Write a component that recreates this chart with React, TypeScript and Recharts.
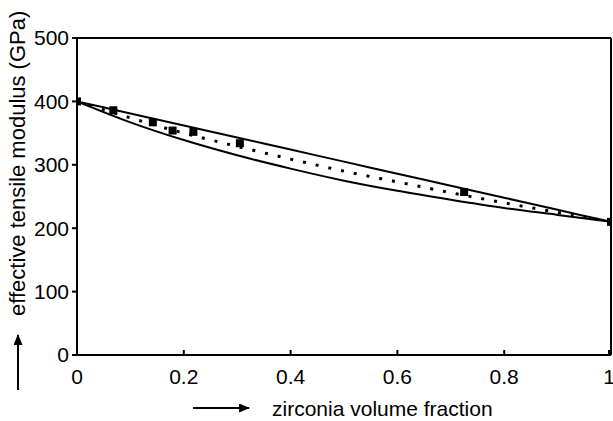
import React from "react";
import { ComposedChart, Line, Scatter, XAxis, YAxis, ReferenceLine } from "recharts";

const FONT = "'Liberation Sans', Arial, sans-serif";

// zirconia volume fraction sample points for the curves
const fractions = [0, 0.1, 0.2, 0.3, 0.4, 0.5, 0.6, 0.7, 0.8, 0.9, 1];
const upperBound = [400, 381, 362, 343, 324, 305, 286, 267, 248, 229, 210];
const lowerBound = [400, 367, 339, 315, 294, 275, 259, 245, 232, 221, 210];
const estimate = [400, 374, 350, 329, 309, 290, 273, 256, 240, 225, 210];

// measured moduli (squares)
const measuredX = [0, 0.068, 0.142, 0.179, 0.218, 0.305, 0.725, 1];
const measuredY = [400, 386, 367, 354, 352, 334, 257, 210];

const xTicks = [0, 0.2, 0.4, 0.6, 0.8, 1];
const yTicks = [0, 100, 200, 300, 400, 500];

const toPoints = (xs: number[], ys: number[]) => xs.map((x, i) => ({ x, y: ys[i] }));

const upperData = toPoints(fractions, upperBound);
const lowerData = toPoints(fractions, lowerBound);
const estimateData = toPoints(fractions, estimate);
const measuredData = toPoints(measuredX, measuredY);

const XTick = ({ x, y, payload }: any) => (
  <g>
    <line x1={x} x2={x} y1={y} y2={y - 5} stroke="#000" strokeWidth={2} />
    <text x={x} y={y + 29} textAnchor="middle" fill="#000" fontSize={21} fontFamily={FONT}>
      {payload.value}
    </text>
  </g>
);

const Square = ({ cx, cy }: any) => (
  <rect x={cx - 4} y={cy - 4} width={8} height={8} fill="#000" />
);

export default function App() {
  return (
    <div style={{ position: "absolute", left: 0, top: 0, width: 613, height: 421, background: "#fff" }}>
      <ComposedChart width={613} height={421} margin={{ top: 38, right: 2, bottom: 36, left: 0 }}>
        <XAxis
          dataKey="x"
          type="number"
          domain={[0, 1]}
          ticks={xTicks}
          tick={<XTick />}
          tickLine={false}
          tickSize={0}
          tickMargin={0}
          height={30}
          axisLine={{ stroke: "#000", strokeWidth: 2 }}
          allowDataOverflow
        />
        <YAxis
          type="number"
          domain={[0, 500]}
          ticks={yTicks}
          width={77}
          tickSize={5}
          tickMargin={3}
          tick={{ fill: "#000", fontSize: 21, fontFamily: FONT }}
          tickLine={{ stroke: "#000", strokeWidth: 2 }}
          axisLine={{ stroke: "#000", strokeWidth: 2 }}
        />
        <ReferenceLine y={500} stroke="#000" strokeWidth={2} />
        <ReferenceLine x={1} stroke="#000" strokeWidth={2} />
        <Line data={upperData} dataKey="y" type="monotone" stroke="#000" strokeWidth={2} dot={false} isAnimationActive={false} />
        <Line data={lowerData} dataKey="y" type="monotone" stroke="#000" strokeWidth={2} dot={false} isAnimationActive={false} />
        <Line
          data={estimateData}
          dataKey="y"
          type="monotone"
          stroke="#000"
          strokeWidth={3}
          strokeDasharray="3 10"
          dot={false}
          isAnimationActive={false}
        />
        <Scatter data={measuredData} dataKey="y" shape={<Square />} isAnimationActive={false} />
      </ComposedChart>
      <svg width={613} height={421} style={{ position: "absolute", left: 0, top: 0, pointerEvents: "none" }}>
        <defs>
          <marker id="head" markerWidth="11" markerHeight="9" refX="10" refY="4.5" orient="auto" markerUnits="userSpaceOnUse">
            <path d="M0,0 L11,4.5 L0,9 Z" fill="#000" />
          </marker>
        </defs>
        <text transform="translate(25, 316) rotate(-90)" fill="#000" fontSize={22} fontFamily={FONT}>
          effective tensile modulus (GPa)
        </text>
        <line x1={18} y1={390} x2={18} y2={335} stroke="#000" strokeWidth={2} markerEnd="url(#head)" />
        <line x1={193} y1={408} x2={249} y2={408} stroke="#000" strokeWidth={2} markerEnd="url(#head)" />
        <text x={272} y={416} fill="#000" fontSize={21} fontFamily={FONT}>
          zirconia volume fraction
        </text>
      </svg>
    </div>
  );
}
